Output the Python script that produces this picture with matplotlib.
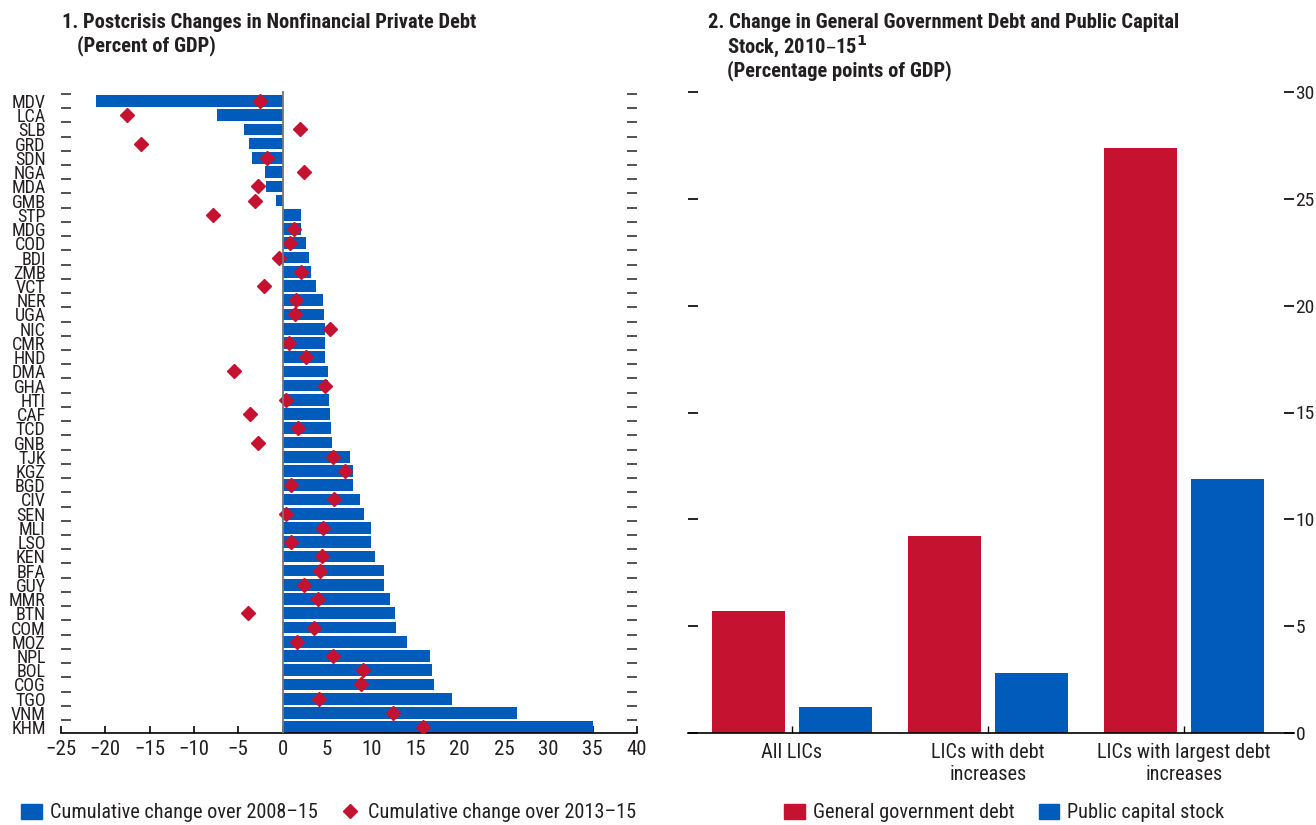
import matplotlib
matplotlib.use("Agg")
import matplotlib.pyplot as plt
from matplotlib import font_manager
from matplotlib.patches import Patch
from matplotlib.lines import Line2D

# pick a condensed font if there is one
available = set(f.name for f in font_manager.fontManager.ttflist)
font = "DejaVu Sans"
for name in ["Liberation Sans Narrow", "DejaVu Sans Condensed", "Roboto Condensed", "Liberation Sans"]:
    if name in available:
        font = name
        break
print("font:", font)
plt.rcParams["font.family"] = [font, "DejaVu Sans"]

BLUE = "#005BBB"
RED = "#C41230"
TXT = "#231f20"

# panel 1
countries = ["MDV", "LCA", "SLB", "GRD", "SDN", "NGA", "MDA", "GMB", "STP", "MDG",
             "COD", "BDI", "ZMB", "VCT", "NER", "UGA", "NIC", "CMR", "HND", "DMA",
             "GHA", "HTI", "CAF", "TCD", "GNB", "TJK", "KGZ", "BGD", "CIV", "SEN",
             "MLI", "LSO", "KEN", "BFA", "GUY", "MMR", "BTN", "COM", "MOZ", "NPL",
             "BOL", "COG", "TGO", "VNM", "KHM"]
change_08_15 = [-21.1, -7.4, -4.3, -3.8, -3.4, -2.0, -1.9, -0.7, 2.1, 2.1,
                2.6, 3.0, 3.2, 3.8, 4.6, 4.7, 4.8, 4.8, 4.8, 5.1,
                5.1, 5.2, 5.3, 5.5, 5.6, 7.6, 7.9, 8.0, 8.7, 9.2,
                10.0, 10.0, 10.4, 11.4, 11.4, 12.1, 12.7, 12.8, 14.1, 16.6,
                16.9, 17.1, 19.1, 26.5, 35.0]
change_13_15 = [-2.5, -17.6, 2.0, -16.0, -1.7, 2.4, -2.8, -3.1, -7.8, 1.3,
                0.8, -0.4, 2.1, -2.1, 1.5, 1.4, 5.4, 0.7, 2.7, -5.5,
                4.8, 0.4, -3.7, 1.8, -2.8, 5.7, 7.1, 0.9, 5.8, 0.4,
                4.6, 0.9, 4.5, 4.2, 2.4, 4.0, -3.9, 3.6, 1.6, 5.7,
                9.1, 8.8, 4.1, 12.5, 15.8]

# panel 2
groups = ["All LICs", "LICs with debt\nincreases", "LICs with largest debt\nincreases"]
gov_debt = [5.7, 9.2, 27.4]
capital_stock = [1.2, 2.8, 11.9]

fig = plt.figure(figsize=(13.16, 8.25), dpi=100)
W, H = 1316, 825

ax1 = fig.add_axes([61 / W, 1 - 733 / H, 576 / W, 642 / H])
ypos = list(range(len(countries)))
ax1.barh(ypos, change_08_15, height=0.82, color=BLUE, zorder=2)
ax1.plot(change_13_15, ypos, "D", color=RED, ms=7, zorder=3, linestyle="none")
ax1.axvline(0, color="#777777", lw=1.3, zorder=4)
ax1.set_xlim(-25, 40)
ax1.set_ylim(len(countries) - 1 + 0.41, -0.7)
ax1.set_xticks(range(-25, 41, 5))
ax1.set_yticks(ypos)
ax1.set_yticklabels(countries)
ax1.set_yticks([i - 0.5 for i in ypos], minor=True)
for s in ["top", "left", "right"]:
    ax1.spines[s].set_visible(False)
ax1.spines["bottom"].set_linewidth(1.2)
ax1.tick_params(axis="y", which="major", length=0, pad=11, labelsize=13, labelcolor=TXT)
ax1.tick_params(axis="y", which="minor", direction="in", length=7, width=1.2,
                left=True, right=True, color="#333333")
ax1.tick_params(axis="x", direction="in", length=5, width=1.2, labelsize=15, pad=5,
                labelcolor=TXT)

fig.text(62 / W, 1 - 22 / H, "1. Postcrisis Changes in Nonfinancial Private Debt",
         fontsize=14.8, fontweight="bold", va="center", color=TXT)
fig.text(77 / W, 1 - 46 / H, "(Percent of GDP)",
         fontsize=14.8, fontweight="bold", va="center", color=TXT)

h1 = [Patch(color=BLUE, label="Cumulative change over 2008–15"),
      Line2D([], [], marker="D", color=RED, linestyle="none", ms=7,
             label="Cumulative change over 2013–15")]
fig.legend(handles=h1, loc="center left", bbox_to_anchor=(3 / W, 1 - 813 / H),
           ncol=2, frameon=False, fontsize=14.6, handlelength=1.0, handleheight=0.8,
           handletextpad=0.4, columnspacing=1.1, labelcolor=TXT)

# right panel
ax2 = fig.add_axes([688 / W, 1 - 733 / H, 606 / W, 641 / H])
gx = list(range(len(groups)))
w = 0.373
off = 0.222
ax2.bar([g - off for g in gx], gov_debt, width=w, color=RED)
ax2.bar([g + off for g in gx], capital_stock, width=w, color=BLUE)
ax2.set_xlim(-0.53, 2.56)
ax2.set_ylim(0, 30)
ax2.set_yticks(range(0, 31, 5))
ax2.set_xticks(gx)
ax2.set_xticklabels(groups)
for s in ["top", "left", "right"]:
    ax2.spines[s].set_visible(False)
ax2.spines["bottom"].set_linewidth(1.2)
ax2.tick_params(axis="y", direction="in", length=7, width=1.2, left=True, right=True,
                labelleft=False, labelright=True, labelsize=14, pad=1, labelcolor=TXT)
ax2.tick_params(axis="x", direction="in", length=5, width=1.0, labelsize=14.6, pad=7,
                labelcolor=TXT)

fig.text(708 / W, 1 - 22 / H, "2. Change in General Government Debt and Public Capital",
         fontsize=14.8, fontweight="bold", va="center", color=TXT)
fig.text(727 / W, 1 - 46 / H, "Stock, 2010–15$^{\\mathbf{1}}$",
         fontsize=14.8, fontweight="bold", va="center", color=TXT)
fig.text(727 / W, 1 - 71 / H, "(Percentage points of GDP)",
         fontsize=14.8, fontweight="bold", va="center", color=TXT)

h2 = [Patch(color=RED, label="General government debt"),
      Patch(color=BLUE, label="Public capital stock")]
fig.legend(handles=h2, loc="center left", bbox_to_anchor=(766 / W, 1 - 813 / H),
           ncol=2, frameon=False, fontsize=14.6, handlelength=1.0, handleheight=0.8,
           handletextpad=0.4, columnspacing=1.2, labelcolor=TXT)

fig.savefig("out.png", dpi=100)
